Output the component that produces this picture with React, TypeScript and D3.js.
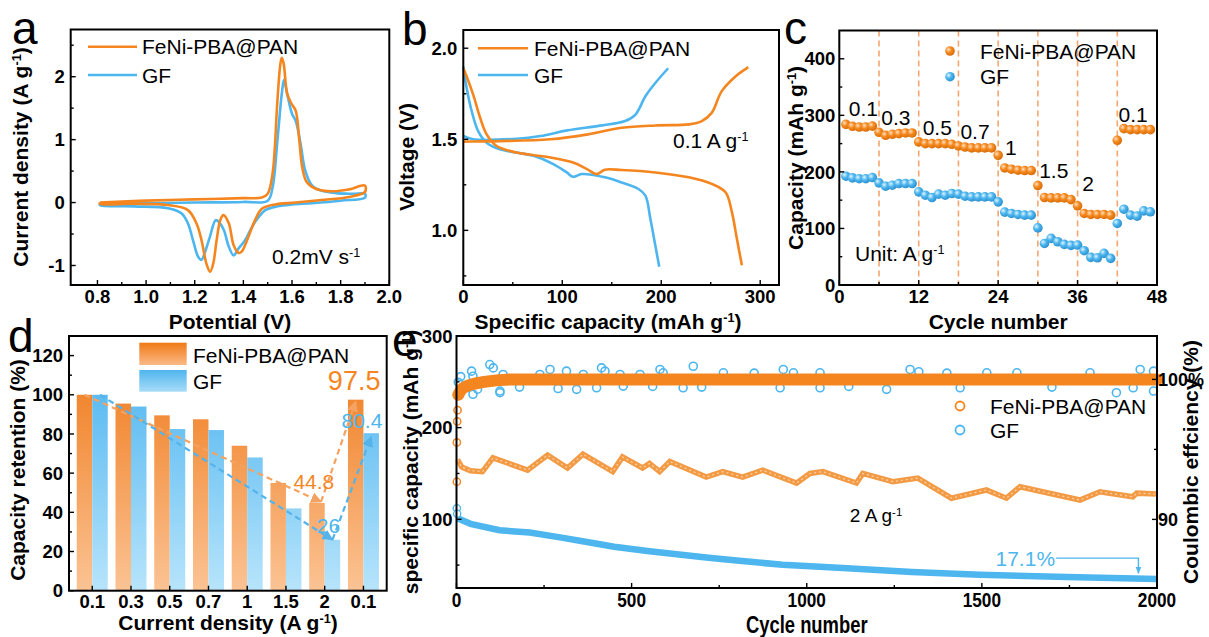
import React from "react";
import * as d3 from "d3";

const ORANGE = "#f5861f";
const BLUE = "#4db6ee";
const FONT = "'Liberation Sans', Arial, Helvetica, sans-serif";

// a: CV loops at 0.2 mV/s (anodic sweep then cathodic sweep)
const cvFeNiV = [0.81, 1.0, 1.2, 1.4, 1.476, 1.5, 1.52, 1.54, 1.552, 1.558, 1.566, 1.58, 1.598, 1.615, 1.63, 1.642, 1.66, 1.697, 1.766, 1.835, 1.9, 1.9, 1.835, 1.72, 1.615, 1.53, 1.476, 1.448, 1.42, 1.393, 1.38, 1.36, 1.34, 1.318, 1.305, 1.29, 1.276, 1.263, 1.248, 1.228, 1.207, 1.172, 1.09, 0.95, 0.81, 0.81];
const cvFeNiI = [0.0, 0.03, 0.05, 0.07, 0.08, 0.14, 0.46, 1.62, 2.2, 2.3, 2.2, 1.73, 1.57, 1.46, 0.99, 0.56, 0.33, 0.22, 0.18, 0.21, 0.27, 0.17, 0.09, 0.04, 0.0, -0.03, -0.1, -0.28, -0.55, -0.78, -0.8, -0.68, -0.33, -0.2, -0.28, -0.6, -0.97, -1.1, -0.97, -0.6, -0.33, -0.12, -0.04, -0.02, -0.02, 0.0];
const cvGfV = [0.81, 1.0, 1.2, 1.4, 1.5, 1.52, 1.54, 1.558, 1.567, 1.58, 1.6, 1.615, 1.635, 1.655, 1.683, 1.72, 1.78, 1.85, 1.9, 1.9, 1.8, 1.68, 1.6, 1.54, 1.49, 1.463, 1.435, 1.407, 1.38, 1.36, 1.34, 1.32, 1.3, 1.286, 1.262, 1.241, 1.228, 1.214, 1.193, 1.172, 1.145, 1.09, 0.95, 0.81, 0.81];
const cvGfI = [-0.02, -0.01, 0.0, 0.01, 0.03, 0.24, 0.99, 1.73, 1.95, 1.73, 1.41, 1.3, 0.94, 0.5, 0.27, 0.19, 0.15, 0.14, 0.14, 0.08, 0.03, -0.01, -0.03, -0.06, -0.12, -0.23, -0.39, -0.6, -0.73, -0.84, -0.7, -0.44, -0.31, -0.28, -0.55, -0.8, -0.91, -0.86, -0.6, -0.33, -0.17, -0.09, -0.06, -0.04, -0.02];

// b: charge / discharge at 0.1 A/g
const feniChgCap = [0, 10, 37, 88, 126, 160, 194, 228, 241, 251, 261, 275, 288];
const feniChgV = [1.487, 1.488, 1.49, 1.5, 1.527, 1.563, 1.576, 1.582, 1.6, 1.645, 1.763, 1.845, 1.896];
const feniDisCap = [0, 3.4, 10, 17, 23.6, 33.7, 54, 88, 111, 125, 135, 143, 160, 194, 228, 251, 265, 271.4, 276.4, 281.5];
const feniDisV = [1.89, 1.845, 1.745, 1.618, 1.527, 1.463, 1.427, 1.4, 1.372, 1.336, 1.309, 1.333, 1.331, 1.318, 1.291, 1.255, 1.209, 1.1, 0.955, 0.809];
const gfChgCap = [0, 10, 54, 78, 105, 138, 163.5, 174, 184, 194, 207];
const gfChgV = [1.518, 1.5, 1.503, 1.518, 1.549, 1.575, 1.6, 1.636, 1.736, 1.809, 1.89];
const gfDisCap = [0, 3.4, 8.5, 15, 23.6, 37, 71, 91, 104.5, 111, 119.7, 143, 160, 177, 184, 189, 194, 198];
const gfDisV = [1.9, 1.781, 1.654, 1.545, 1.481, 1.445, 1.409, 1.364, 1.318, 1.294, 1.309, 1.291, 1.263, 1.227, 1.191, 1.064, 0.918, 0.8];

// c: rate capability, cycles 1..47
const rateFeNi = [284, 280.6, 279.4, 279.4, 281, 270, 264.7, 266.5, 267.6, 268.8, 268.8, 253, 250, 250, 250, 250, 248.8, 245.9, 244, 242.4, 242.4, 242.4, 242.4, 229.4, 207, 204.7, 203, 202.4, 202.4, 175.9, 154.7, 154, 154, 154, 151, 140, 126.5, 124.7, 124.7, 124.7, 123.5, 255.9, 276.5, 274.7, 274.7, 274.7, 274.7];
const rateGf = [192.4, 189.4, 188, 188, 190, 180.6, 174.7, 176.5, 179.4, 179.4, 179.4, 164.7, 158.8, 154.7, 160.6, 158.8, 161.8, 160.6, 157, 155.9, 155.9, 155.9, 155.9, 147, 128.8, 126.5, 124.7, 123.5, 123.5, 101, 73.5, 82.4, 76.5, 71.8, 70, 70.6, 60.6, 48.8, 48.2, 55.9, 47, 108.8, 134, 123.5, 121.8, 131, 129.4];
const rateSwitch = [6, 12, 18, 24, 30, 36, 42];
const rateLabels = ["0.1", "0.3", "0.5", "0.7", "1", "1.5", "2", "0.1"];
const rateLabelCycle = [3.65, 8.55, 14.8, 20.5, 25.9, 32.4, 37.6, 44.4];
const rateLabelCap = [312, 297, 279, 272, 244, 203, 179, 301];

// d: capacity retention
const retCats = ["0.1", "0.3", "0.5", "0.7", "1", "1.5", "2", "0.1"];
const retFeNi = [100, 95.5, 89.5, 87.5, 74, 55, 44.8, 97.5];
const retGf = [100, 94, 82.5, 82, 68, 42, 26, 80.4];

// e: long cycling at 2 A/g
const feniCapCycles = [3, 15, 40, 74, 104, 203, 260, 317, 361, 446, 474, 531, 551, 580, 609, 713, 760, 817, 874, 971, 1009, 1046, 1142, 1160, 1246, 1317, 1413, 1513, 1570, 1609, 1780, 1837, 1931, 1942, 2000];
const feniCap = [165, 157, 153, 152, 167, 153.6, 170, 156, 171, 152, 168, 156, 161, 152, 163, 146, 152, 146, 153.6, 139.5, 150, 152, 139.5, 150, 141, 145, 123, 132, 123, 135.5, 121, 130, 124.6, 128.5, 127.5];
const feniCapEarlyCycles = [1];
const feniCapEarly = [141];
const gfCapCycles = [3, 40, 123, 209, 300, 360, 450, 551, 713, 800, 931, 1103, 1300, 1494, 1743, 2000];
const gfCap = [101, 95, 88, 85.5, 80, 76, 70, 65, 58.3, 55, 50.3, 46.7, 42.5, 39.4, 37, 34.8];
const gfCapEarlyCycles = [1, 2];
const gfCapEarly = [112, 106];
const feniCeCycles = [5, 15, 28, 74, 171, 500, 1000, 1500, 2000];
const feniCe = [98.9, 99.3, 99.5, 99.8, 100, 100, 100, 100, 100];
const feniCeEarlyCycles = [1, 2, 3];
const feniCeEarly = [95.5, 97.0, 97.8];
const gfCeCycles = [5, 12, 43, 47, 95, 105, 124, 133, 238, 267, 314, 362, 414, 424, 467, 524, 581, 590, 676, 762, 933, 962, 47, 124, 343, 400, 476, 647, 924, 1038, 1295, 1514, 1600, 1809, 1952, 1990, 1038, 1228, 1438, 1884, 1990, 1932, 60, 180, 290, 560, 700, 850, 1120, 1320, 1700, 1400];
const gfCe = [99.8, 100.2, 100.59, 100.23, 101.06, 100.82, 99.17, 100.35, 100.35, 100.71, 100.59, 100.35, 100.82, 100.59, 100.35, 100.35, 100.71, 100.47, 100.94, 100.47, 100.71, 100.47, 98.94, 99.05, 99.29, 99.4, 99.52, 99.4, 99.4, 100.47, 100.71, 100.47, 100.47, 100.47, 100.71, 100.59, 99.4, 99.29, 99.4, 99.05, 99.17, 99.4, 99.3, 99.45, 99.35, 99.5, 99.45, 100.45, 99.5, 100.55, 99.45, 100.45];

const A = { l: 70.7, t: 29.5, r: 389.3, b: 285 };
const B = { l: 463.3, t: 30, r: 779, b: 285 };
const C = { l: 839.3, t: 30.5, r: 1157, b: 285 };
const D = { l: 69, t: 336, r: 386.7, b: 590.7 };
const E = { l: 456.5, t: 336, r: 1157, b: 588 };

const zip = (xs: number[], ys: number[]) => xs.map((x, i) => [x, ys[i]] as [number, number]);
const tk = { stroke: "#000", strokeWidth: 1.4 };
const Sup = ({ c }: { c: string }) => (
  <tspan baselineShift="super" fontSize="0.6em">{c}</tspan>
);

function Frame({ p }: any) {
  return <rect x={p.l} y={p.t} width={p.r - p.l} height={p.b - p.t} fill="none" stroke="#000" strokeWidth={2} />;
}

function BottomTicks({ s, y, major, minor = [], fmt = String, fs = 18.5, off = 18, sx = 1 }: any) {
  return (
    <g>
      {minor.map((v: number) => <line key={"m" + v} x1={s(v)} x2={s(v)} y1={y} y2={y - 3} {...tk} />)}
      {major.map((v: number, i: number) => (
        <g key={i}>
          <line x1={s(v)} x2={s(v)} y1={y} y2={y - 5} {...tk} />
          <text transform={`translate(${s(v)},${y + off}) scale(${sx},1)`} textAnchor="middle" fontSize={fs} fontWeight="bold">
            {fmt(v, i)}
          </text>
        </g>
      ))}
    </g>
  );
}

function LeftTicks({ s, x, major, minor = [], fmt = String, fs = 18.5, off = 6 }: any) {
  return (
    <g>
      {minor.map((v: number) => <line key={"m" + v} x1={x} x2={x + 3} y1={s(v)} y2={s(v)} {...tk} />)}
      {major.map((v: number) => (
        <g key={v}>
          <line x1={x} x2={x + 5} y1={s(v)} y2={s(v)} {...tk} />
          <text x={x - off} y={s(v)} dy="0.36em" textAnchor="end" fontSize={fs} fontWeight="bold">
            {fmt(v)}
          </text>
        </g>
      ))}
    </g>
  );
}

export default function App() {
  // scales
  const xa = d3.scaleLinear().domain([0.69, 2.0]).range([A.l, A.r]);
  const ya = d3.scaleLinear().domain([-1.31, 2.75]).range([A.b, A.t]);
  const xb = d3.scaleLinear().domain([0, 319]).range([B.l, B.r]);
  const yb = d3.scaleLinear().domain([0.7, 2.1]).range([B.b, B.t]);
  const xc = d3.scaleLinear().domain([0, 48]).range([C.l, C.r]);
  const yc = d3.scaleLinear().domain([0, 450]).range([C.b, C.t]);
  const xd = d3.scaleBand<number>().domain(retCats.map((_, i) => i)).range([D.l, D.r]).paddingInner(0.2).paddingOuter(0.2);
  const yd = d3.scaleLinear().domain([0, 130]).range([D.b, D.t]);
  const xe = d3.scaleLinear().domain([0, 2000]).range([E.l, E.r]);
  const yeL = d3.scaleLinear().domain([25, 300]).range([E.b, E.t]);
  const yeR = d3.scaleLinear().domain([85.1, 103.1]).range([E.b, E.t]);

  const curve = d3.curveCatmullRom.alpha(0.5);
  const lineA = d3.line<[number, number]>().x((d) => xa(d[0])).y((d) => ya(d[1])).curve(curve);
  const lineB = d3.line<[number, number]>().x((d) => xb(d[0])).y((d) => yb(d[1])).curve(curve);
  const lineEL = d3.line<[number, number]>().x((d) => xe(d[0])).y((d) => yeL(d[1])).curve(d3.curveLinear);
  const lineER = d3.line<[number, number]>().x((d) => xe(d[0])).y((d) => yeR(d[1])).curve(d3.curveMonotoneX);
  const bw = xd.bandwidth();
  const cycles = rateFeNi.map((_, i) => i + 1);

  const txt = { fontSize: 21 };
  const title = { fontSize: 21, fontWeight: "bold" as const };
  const letter = { fontSize: 46 };

  // d arrow anchor points (data space)
  const oTip: [number, number] = [(xd(6) as number) + bw * 0.38, 45.4];
  const bTip: [number, number] = [(xd(6) as number) + bw * 0.75, 26];

  return (
    <svg width={1209} height={637} style={{ position: "absolute", left: 0, top: 0, background: "#fff" }} fontFamily={FONT}>
      <defs>
        <radialGradient id="sphO" cx="0.35" cy="0.35" r="0.7">
          <stop offset="0" stopColor="#ffe0bf" />
          <stop offset="0.45" stopColor="#f5891f" />
          <stop offset="1" stopColor="#d56a06" />
        </radialGradient>
        <radialGradient id="sphB" cx="0.35" cy="0.35" r="0.7">
          <stop offset="0" stopColor="#e0f4ff" />
          <stop offset="0.45" stopColor="#4db6ee" />
          <stop offset="1" stopColor="#2a8dcc" />
        </radialGradient>
        <linearGradient id="gO" gradientUnits="userSpaceOnUse" x1={0} y1={D.t} x2={0} y2={D.b}>
          <stop offset="0" stopColor="#ee7411" />
          <stop offset="1" stopColor="#fbc394" />
        </linearGradient>
        <linearGradient id="gB" gradientUnits="userSpaceOnUse" x1={0} y1={D.t} x2={0} y2={D.b}>
          <stop offset="0" stopColor="#42afee" />
          <stop offset="1" stopColor="#b7e4fb" />
        </linearGradient>
        <linearGradient id="lgO" x1="0" y1="0" x2="0" y2="1">
          <stop offset="0" stopColor="#f07a16" />
          <stop offset="1" stopColor="#fbb987" />
        </linearGradient>
        <linearGradient id="lgB" x1="0" y1="0" x2="0" y2="1">
          <stop offset="0" stopColor="#4fb5ee" />
          <stop offset="1" stopColor="#a8dcf8" />
        </linearGradient>
        <marker id="arO" viewBox="0 0 10 10" refX="9" refY="5" markerWidth="5" markerHeight="5" orient="auto">
          <path d="M0,0 L10,5 L0,10 z" fill="#f4a261" />
        </marker>
        <marker id="arB" viewBox="0 0 10 10" refX="9" refY="5" markerWidth="5" markerHeight="5" orient="auto">
          <path d="M0,0 L10,5 L0,10 z" fill="#54b3ea" />
        </marker>
        <marker id="arE" viewBox="0 0 10 10" refX="9" refY="5" markerWidth="5" markerHeight="6" orient="auto">
          <path d="M0,1 L10,5 L0,9 z" fill={BLUE} />
        </marker>
      </defs>

      {/* ---------- a ---------- */}
      <path d={lineA(zip(cvGfV, cvGfI)) || ""} fill="none" stroke={BLUE} strokeWidth={2.6} />
      <path d={lineA(zip(cvFeNiV, cvFeNiI)) || ""} fill="none" stroke={ORANGE} strokeWidth={2.6} />
      <Frame p={A} />
      <BottomTicks s={xa} y={A.b} major={[0.8, 1.0, 1.2, 1.4, 1.6, 1.8, 2.0]} minor={[0.9, 1.1, 1.3, 1.5, 1.7, 1.9]} fmt={(v: number) => v.toFixed(1)} />
      <LeftTicks s={ya} x={A.l} major={[-1, 0, 1, 2]} minor={[-0.5, 0.5, 1.5, 2.5]} />
      <line x1={88} x2={137} y1={46.7} y2={46.7} stroke={ORANGE} strokeWidth={2.6} />
      <text x={142} y={46.7} dy="0.36em" {...txt}>FeNi-PBA@PAN</text>
      <line x1={88} x2={137} y1={75} y2={75} stroke={BLUE} strokeWidth={2.6} />
      <text x={142} y={75} dy="0.36em" {...txt}>GF</text>
      <text x={272} y={256.7} dy="0.36em" {...txt}>0.2mV s<Sup c="-1" /></text>
      <text transform="translate(28,157) rotate(-90)" textAnchor="middle" {...title}>Current density (A g<Sup c="-1" />)</text>
      <text x={(A.l + A.r) / 2} y={329} textAnchor="middle" {...title}>Potential (V)</text>
      <text x={12} y={44} {...letter}>a</text>

      {/* ---------- b ---------- */}
      <path d={lineB(zip(gfChgCap, gfChgV)) || ""} fill="none" stroke={BLUE} strokeWidth={2.6} />
      <path d={lineB(zip(gfDisCap, gfDisV)) || ""} fill="none" stroke={BLUE} strokeWidth={2.6} />
      <path d={lineB(zip(feniChgCap, feniChgV)) || ""} fill="none" stroke={ORANGE} strokeWidth={2.6} />
      <path d={lineB(zip(feniDisCap, feniDisV)) || ""} fill="none" stroke={ORANGE} strokeWidth={2.6} />
      <Frame p={B} />
      <BottomTicks s={xb} y={B.b} major={[0, 100, 200, 300]} minor={[50, 150, 250]} />
      <LeftTicks s={yb} x={B.l} major={[1.0, 1.5, 2.0]} minor={[0.75, 1.25, 1.75]} fmt={(v: number) => v.toFixed(1)} />
      <line x1={478} x2={528} y1={48.3} y2={48.3} stroke={ORANGE} strokeWidth={2.6} />
      <text x={534} y={48.3} dy="0.36em" {...txt}>FeNi-PBA@PAN</text>
      <line x1={478} x2={528} y1={75} y2={75} stroke={BLUE} strokeWidth={2.6} />
      <text x={534} y={75} dy="0.36em" {...txt}>GF</text>
      <text x={673} y={140} dy="0.36em" {...txt}>0.1 A g<Sup c="-1" /></text>
      <text transform="translate(414,157) rotate(-90)" textAnchor="middle" {...title}>Voltage (V)</text>
      <text x={608} y={329} textAnchor="middle" {...title}>Specific capacity (mAh g<Sup c="-1" />)</text>
      <text x={402} y={45} {...letter}>b</text>

      {/* ---------- c ---------- */}
      {rateSwitch.map((c) => (
        <line key={c} x1={xc(c)} x2={xc(c)} y1={C.t} y2={C.b} stroke="#f6a670" strokeWidth={1.6} strokeDasharray="6,4" />
      ))}
      {rateGf.map((v, i) => <circle key={"g" + i} cx={xc(cycles[i])} cy={yc(v)} r={4.8} fill="url(#sphB)" />)}
      {rateFeNi.map((v, i) => <circle key={"o" + i} cx={xc(cycles[i])} cy={yc(v)} r={4.8} fill="url(#sphO)" />)}
      {rateLabels.map((l, i) => (
        <text key={i} x={xc(rateLabelCycle[i])} y={yc(rateLabelCap[i])} dy="0.36em" textAnchor="middle" {...txt}>{l}</text>
      ))}
      <Frame p={C} />
      <BottomTicks s={xc} y={C.b} major={[0, 12, 24, 36, 48]} minor={[6, 18, 30, 42]} />
      <LeftTicks s={yc} x={C.l} major={[0, 100, 200, 300, 400]} minor={[50, 150, 250, 350]} off={4} />
      <circle cx={950} cy={51} r={4.8} fill="url(#sphO)" />
      <text x={980} y={51} dy="0.36em" {...txt}>FeNi-PBA@PAN</text>
      <circle cx={950} cy={76.7} r={4.8} fill="url(#sphB)" />
      <text x={980} y={76.7} dy="0.36em" {...txt}>GF</text>
      <text x={855} y={253} dy="0.36em" {...txt}>Unit: A g<Sup c="-1" /></text>
      <text transform="translate(803,158) rotate(-90)" textAnchor="middle" {...title}>Capacity (mAh g<Sup c="-1" />)</text>
      <text x={(C.l + C.r) / 2} y={329} textAnchor="middle" {...title}>Cycle number</text>
      <text x={784} y={44} {...letter}>c</text>

      {/* ---------- d ---------- */}
      {retFeNi.map((v, i) => (
        <rect key={"o" + i} x={xd(i)} y={yd(v)} width={bw / 2} height={yd(0) - yd(v)} fill="url(#gO)" />
      ))}
      {retGf.map((v, i) => (
        <rect key={"b" + i} x={(xd(i) as number) + bw / 2} y={yd(v)} width={bw / 2} height={yd(0) - yd(v)} fill="url(#gB)" />
      ))}
      <g fill="none" strokeWidth={2.2} strokeDasharray="6,4">
        <line x1={(xd(0) as number) + bw * 0.25} y1={yd(retFeNi[0])} x2={oTip[0]} y2={yd(oTip[1])} stroke="#f4a261" markerEnd="url(#arO)" />
        <line x1={oTip[0]} y1={yd(oTip[1])} x2={(xd(7) as number) + bw * 0.25} y2={yd(retFeNi[7] - 1)} stroke="#f4a261" markerEnd="url(#arO)" />
        <line x1={(xd(0) as number) + bw * 0.75} y1={yd(retGf[0])} x2={bTip[0]} y2={yd(bTip[1])} stroke="#54b3ea" markerEnd="url(#arB)" />
        <line x1={bTip[0]} y1={yd(bTip[1])} x2={(xd(7) as number) + bw * 0.75} y2={yd(retGf[7] - 1.8)} stroke="#54b3ea" markerEnd="url(#arB)" />
      </g>
      <text x={(xd(7) as number) + bw * 0.2} y={yd(97.5) - 10} textAnchor="middle" fontSize={27} fill={ORANGE}>{retFeNi[7]}</text>
      <text x={(xd(7) as number) + bw * 0.45} y={yd(80.4) - 5} textAnchor="middle" fontSize={21} fill={BLUE}>{retGf[7]}</text>
      <text x={(xd(6) as number) + bw * 0.15} y={yd(52)} textAnchor="middle" fontSize={21} fill={ORANGE}>{retFeNi[6]}</text>
      <text x={(xd(6) as number) + bw * 0.62} y={yd(29.3)} textAnchor="middle" fontSize={21} fill={BLUE}>{retGf[6]}</text>
      <Frame p={D} />
      <BottomTicks s={(i: number) => (xd(i) as number) + bw / 2} y={D.b} major={retCats.map((_, i) => i)} fmt={(_: number, i: number) => retCats[i]} off={17} />
      <LeftTicks s={yd} x={D.l} major={[0, 20, 40, 60, 80, 100, 120]} minor={[10, 30, 50, 70, 90, 110]} />
      <rect x={139.3} y={342.7} width={47.4} height={22.3} fill="url(#lgO)" />
      <text x={193} y={355} dy="0.36em" {...txt}>FeNi-PBA@PAN</text>
      <rect x={139.3} y={370} width={47.4} height={21.7} fill="url(#lgB)" />
      <text x={193} y={381.5} dy="0.36em" {...txt}>GF</text>
      <text transform="translate(25,470) rotate(-90)" textAnchor="middle" {...title}>Capacity retention (%)</text>
      <text x={228} y={630} textAnchor="middle" {...title}>Current density (A g<Sup c="-1" />)</text>
      <text x={8} y={352} {...letter}>d</text>

      {/* ---------- e ---------- */}
      {/* CE (right axis) */}
      {gfCe.map((v, i) => (
        <circle key={"gce" + i} cx={xe(gfCeCycles[i])} cy={yeR(v)} r={4} fill="none" stroke={BLUE} strokeWidth={1.6} />
      ))}
      <path d={lineER(zip(feniCeCycles, feniCe)) || ""} fill="none" stroke={ORANGE} strokeWidth={12} strokeLinecap="round" />
      {feniCeEarly.map((v, i) => (
        <circle key={"oce" + i} cx={xe(feniCeEarlyCycles[i])} cy={yeR(v)} r={3.6} fill="none" stroke={ORANGE} strokeWidth={1.5} />
      ))}
      {/* capacity (left axis) */}
      <path d={lineEL(zip(gfCapCycles, gfCap)) || ""} fill="none" stroke={BLUE} strokeWidth={6.5} />
      {gfCapEarly.map((v, i) => (
        <circle key={"gc" + i} cx={xe(gfCapEarlyCycles[i])} cy={yeL(v)} r={3.6} fill="#fff" stroke={BLUE} strokeWidth={1.3} />
      ))}
      <path d={lineEL(zip(feniCapCycles, feniCap)) || ""} fill="none" stroke="#f39a45" strokeWidth={5.5} />
      <path d={lineEL(zip(feniCapCycles, feniCap)) || ""} fill="none" stroke="#fbd3ab" strokeWidth={1.2} strokeDasharray="2,3" />
      {feniCapEarly.map((v, i) => (
        <circle key={"oc" + i} cx={xe(feniCapEarlyCycles[i])} cy={yeL(v)} r={3.6} fill="#fff" stroke={ORANGE} strokeWidth={1.5} />
      ))}
      <text x={xe(1123)} y={yeL(104.7)} dy="0.36em" fontSize={19}>2 A g<Sup c="-1" /></text>
      <text x={xe(1709)} y={yeL(57.6)} dy="0.36em" textAnchor="end" fontSize={21} fill={BLUE}>17.1%</text>
      <path
        d={`M${xe(1712)},${yeL(57.6)} H${xe(1947)} V${yeL(41)}`}
        fill="none"
        stroke={BLUE}
        strokeWidth={1.4}
        markerEnd="url(#arE)"
      />
      <Frame p={E} />
      <BottomTicks s={xe} y={E.b} major={[0, 500, 1000, 1500, 2000]} minor={[250, 750, 1250, 1750]} fs={21} off={19} sx={0.82} />
      <LeftTicks s={yeL} x={E.l} major={[100, 200, 300]} minor={[50, 150, 250]} off={4} />
      {[90, 100].map((v) => (
        <g key={v}>
          <line x1={E.r} x2={E.r - 5} y1={yeR(v)} y2={yeR(v)} {...tk} />
          <text x={E.r + 1} y={yeR(v)} dy="0.36em" fontSize={18} fontWeight="bold">{v === 100 ? "100%" : "90"}</text>
        </g>
      ))}
      <line x1={E.r} x2={E.r - 3} y1={yeR(95)} y2={yeR(95)} {...tk} />
      <circle cx={960} cy={406} r={4.5} fill="none" stroke={ORANGE} strokeWidth={1.8} />
      <text x={990} y={406} dy="0.36em" {...txt}>FeNi-PBA@PAN</text>
      <circle cx={960} cy={430} r={4.5} fill="none" stroke={BLUE} strokeWidth={1.8} />
      <text x={990} y={430} dy="0.36em" {...txt}>GF</text>
      <text transform="translate(418,462) rotate(-90)" textAnchor="middle" {...title}>specific capacity (mAh g<Sup c="-1" />)</text>
      <text transform="translate(1198,462) rotate(-90)" textAnchor="middle" {...title}>Coulombic effciency (%)</text>
      <text transform={`translate(${(E.l + E.r) / 2},633) scale(0.8,1)`} textAnchor="middle" fontSize={23} fontWeight="bold">Cycle number</text>
      <text x={392} y={356} {...letter}>e</text>
    </svg>
  );
}
